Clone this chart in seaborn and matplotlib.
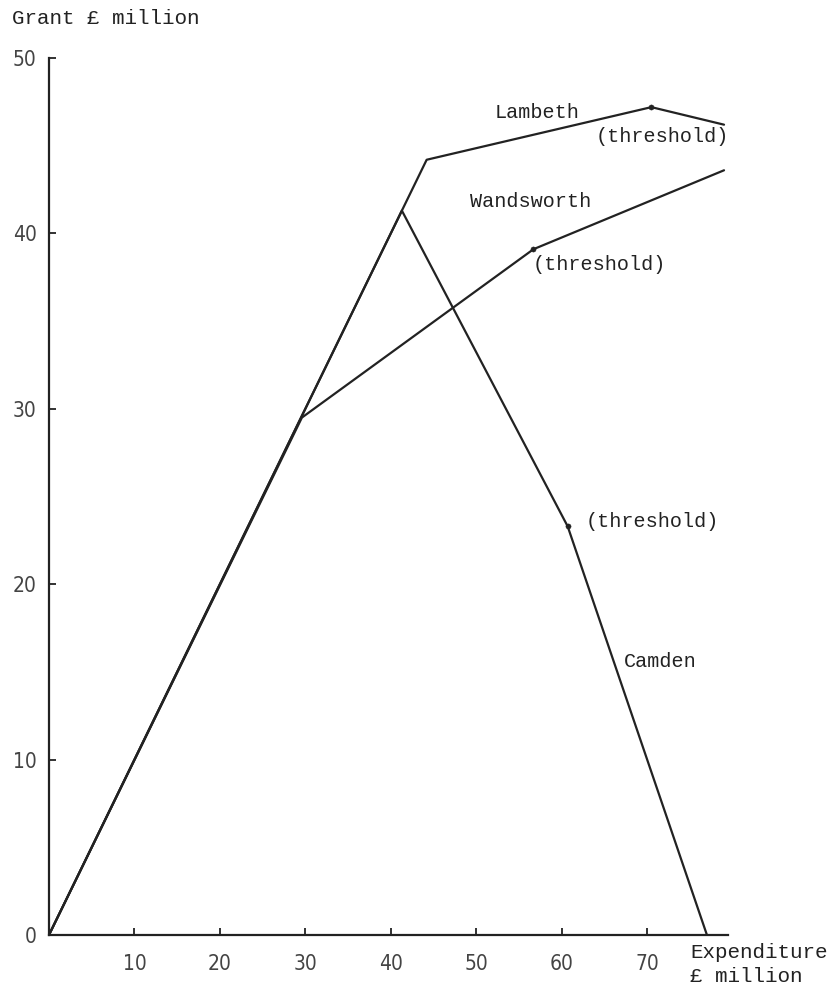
import matplotlib
matplotlib.use("Agg")
import matplotlib.pyplot as plt
import seaborn as sns
import pandas as pd

# ---- data ----
lambeth_x = [0, 44.2, 70.5, 79.0]
lambeth_y = [0, 44.2, 47.2, 46.2]
wandsworth_x = [0, 29.6, 56.7, 79.0]
wandsworth_y = [0, 29.5, 39.1, 43.6]
camden_x = [0, 41.3, 60.7, 77.0]
camden_y = [0, 41.3, 23.3, 0]

threshold_x = [70.5, 56.7, 60.7]
threshold_y = [47.2, 39.1, 23.3]

x_ticks = [10, 20, 30, 40, 50, 60, 70]
y_ticks = [0, 10, 20, 30, 40, 50]

sns.set_theme(style="white")
plt.rcParams["font.family"] = ["Liberation Mono", "DejaVu Sans"]

ink = "#222222"
fig = plt.figure(figsize=(8.33, 9.92), dpi=100)
ax = fig.add_axes([0.0588, 0.0575, 0.8155, 0.884])

frames = []
for name, xs, ys in [("Lambeth", lambeth_x, lambeth_y),
                     ("Wandsworth", wandsworth_x, wandsworth_y),
                     ("Camden", camden_x, camden_y)]:
    frames.append(pd.DataFrame({"x": xs, "y": ys, "borough": name}))
df = pd.concat(frames, ignore_index=True)

sns.lineplot(data=df, x="x", y="y", hue="borough", units="borough",
             estimator=None, sort=False, palette=[ink, ink, ink],
             linewidth=1.6, legend=False, ax=ax)
sns.scatterplot(x=threshold_x, y=threshold_y, color=ink, s=14,
                edgecolor=ink, zorder=5, ax=ax)

ax.set_xlim(0, 79.5)
ax.set_ylim(0, 50)
ax.set_xticks(x_ticks)
ax.set_yticks(y_ticks)
ax.set_xlabel("")
ax.set_ylabel("")
for s in ["top", "right"]:
    ax.spines[s].set_visible(False)
for s in ["left", "bottom"]:
    ax.spines[s].set_color(ink)
    ax.spines[s].set_linewidth(1.6)

ax.tick_params(axis="both", direction="in", length=5, width=1.3,
               colors=ink, labelcolor="#444444", bottom=True, left=True)
ax.tick_params(axis="x", pad=14)
ax.tick_params(axis="y", pad=9)
for lbl in ax.get_xticklabels() + ax.get_yticklabels():
    lbl.set_fontfamily("DejaVu Sans")
    lbl.set_fontstretch("condensed")
    lbl.set_fontsize(15)

txt = dict(color=ink, fontsize=14.5, ha="center", va="center")
ax.text(57.1, 46.9, "Lambeth", **txt)
ax.text(71.8, 45.5, "(threshold)", **txt)
ax.text(56.4, 41.8, "Wandsworth", **txt)
ax.text(64.4, 38.2, "(threshold)", **txt)
ax.text(70.6, 23.6, "(threshold)", **txt)
ax.text(71.5, 15.6, "Camden", **txt)

fig.text(12 / 833, 1 - 18 / 992, "Grant £ million", color=ink,
         fontsize=15, ha="left", va="center")
fig.text(690 / 833, 1 - 953 / 992, "Expenditure", color=ink,
         fontsize=15, ha="left", va="center")
fig.text(690 / 833, 1 - 976 / 992, "£ million", color=ink,
         fontsize=15, ha="left", va="center")

fig.savefig("out.png", dpi=100, facecolor="white")
